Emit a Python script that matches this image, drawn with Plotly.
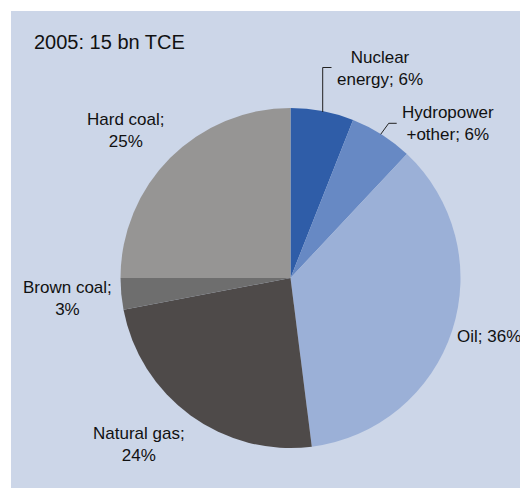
import plotly.graph_objects as go

W, H = 520, 488

# --- data ---
sources = ["Nuclear energy", "Hydropower +other", "Oil", "Natural gas", "Brown coal", "Hard coal"]
shares = [6, 6, 36, 24, 3, 25]
label_texts = [
    "Nuclear<br>energy; 6%",
    "Hydropower<br>+other; 6%",
    "Oil; 36%",
    "Natural gas;<br>24%",
    "Brown coal;<br>3%",
    "Hard coal;<br>25%",
]
title_text = "2005: 15 bn TCE"

# --- styles ---
COLORS = ["#2f5da8", "#6789c4", "#9bb0d7", "#4e4a49", "#6e6e6e", "#969594"]
BG = "#ccd6e8"
TEXT_COLOR = "#111"
FONT = "Liberation Sans, Arial, sans-serif"

# label positions in pixels (center x, center y, xanchor)
label_pos = [
    (380, 68, "center"),
    (448, 124, "center"),
    (455, 336, "left"),
    (139, 444, "center"),
    (67, 298, "center"),
    (125, 130, "center"),
]


def px(x):
    return x / W


def py(y):
    return 1 - y / H


fig = go.Figure()

fig.add_trace(go.Pie(
    labels=sources,
    values=shares,
    sort=False,
    direction="clockwise",
    rotation=0,
    marker=dict(colors=COLORS, line=dict(width=0)),
    textinfo="none",
    hoverinfo="skip",
    showlegend=False,
    domain=dict(x=[px(120.5), px(460.5)], y=[py(448), py(108)]),
))

annotations = [dict(
    x=px(32), y=py(42), xref="paper", yref="paper",
    text=title_text, showarrow=False, xanchor="left", yanchor="middle",
    font=dict(size=20, color=TEXT_COLOR, family=FONT),
)]
for txt, (lx, ly, anc) in zip(label_texts, label_pos):
    annotations.append(dict(
        x=px(lx), y=py(ly), xref="paper", yref="paper",
        text=txt, showarrow=False, xanchor=anc, yanchor="middle", align="center",
        font=dict(size=17, color=TEXT_COLOR, family=FONT),
    ))

shapes = [dict(
    type="rect", xref="paper", yref="paper", layer="below",
    x0=px(11), x1=1.01, y0=-0.01, y1=py(11),
    fillcolor=BG, line=dict(width=0),
)]
# leader lines
leaders = [
    [(322.7, 112), (322.7, 67.5), (331.5, 67.5)],
    [(380.7, 134.3), (388.7, 123.3), (396.7, 123.3)],
]
for pts in leaders:
    path = "M " + " L ".join(f"{px(x)},{py(y)}" for x, y in pts)
    shapes.append(dict(type="path", xref="paper", yref="paper", path=path,
                       line=dict(color="#222", width=1)))

fig.update_layout(
    width=W, height=H,
    margin=dict(l=0, r=0, t=0, b=0),
    paper_bgcolor="white",
    plot_bgcolor="rgba(0,0,0,0)",
    annotations=annotations,
    shapes=shapes,
)

# drop the default 8px page margin so the figure fills the window
fig.write_html(
    "out.html",
    config={"displayModeBar": False},
    post_script="document.body.style.margin='0';document.body.style.overflow='hidden';",
)
